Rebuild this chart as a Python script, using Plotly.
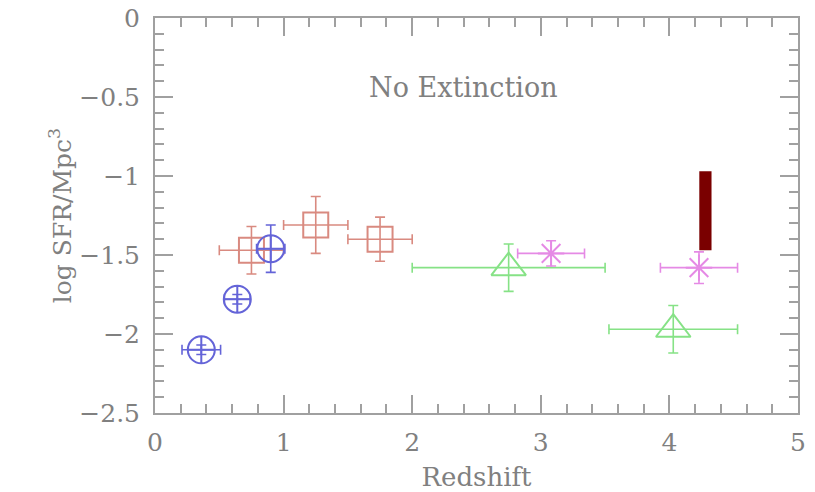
import plotly.graph_objects as go

# Star-formation-rate density measurements vs redshift (no extinction correction)
blue_z = [0.36, 0.64, 0.90]
blue_sfr = [-2.10, -1.78, -1.46]
blue_zerr = [0.15, 0.10, 0.11]
blue_sfrerr = [0.03, 0.03, 0.15]

red_z = [0.75, 1.25, 1.75]
red_sfr = [-1.47, -1.31, -1.40]
red_zerr = [0.25, 0.25, 0.25]
red_sfrerr = [0.15, 0.18, 0.14]

green_z = [2.75, 4.03]
green_sfr = [-1.58, -1.97]
green_zerr = [0.75, 0.50]
green_sfrerr = [0.15, 0.15]

pink_z = [3.08, 4.23]
pink_sfr = [-1.49, -1.58]
pink_zerr = [0.26, 0.30]
pink_sfrerr = [0.08, 0.10]

# vertical range bar at z ~ 4.3
bar_z = [4.28]
bar_low = [-1.47]
bar_high = [-0.97]

FONT = "DejaVu Serif"
GREY = "#808080"
FRAME = "#a0a0a0"


def series(x, y, xe, ye, color, symbol, size):
    return go.Scatter(
        x=x, y=y, mode="markers",
        marker=dict(symbol=symbol, size=size, color=color,
                    line=dict(color=color, width=2)),
        error_x=dict(type="data", array=xe, color=color, thickness=1.6, width=5),
        error_y=dict(type="data", array=ye, color=color, thickness=1.6, width=5),
        showlegend=False, cliponaxis=False,
    )


fig = go.Figure()
fig.add_trace(go.Bar(
    x=bar_z, y=[h - l for h, l in zip(bar_high, bar_low)], base=bar_low,
    width=0.095, marker=dict(color="#7a0000", line=dict(width=0)),
    showlegend=False,
))
fig.add_trace(series(red_z, red_sfr, red_zerr, red_sfrerr, "#d98a80", "square-open", 25))
fig.add_trace(series(blue_z, blue_sfr, blue_zerr, blue_sfrerr, "#6464d8", "circle-cross-open", 27))
fig.add_trace(series(green_z, green_sfr, green_zerr, green_sfrerr, "#86e286", "triangle-up-open", 30))
fig.add_trace(series(pink_z, pink_sfr, pink_zerr, pink_sfrerr, "#e58ae5", "asterisk-open", 22))

fig.add_annotation(x=2.4, y=-0.44, text="No Extinction", showarrow=False,
                   font=dict(family=FONT, size=27, color=GREY))

axis_common = dict(
    showgrid=False, zeroline=False, showline=True, linecolor=FRAME, linewidth=2,
    mirror="ticks", ticks="inside", ticklen=18, tickwidth=1.5, tickcolor=FRAME,
    tickfont=dict(family=FONT, size=25, color=GREY), automargin=False,
)

fig.update_xaxes(
    range=[0, 5], tick0=0, dtick=1,
    title=dict(text="Redshift", standoff=12, font=dict(family=FONT, size=26, color=GREY)),
    minor=dict(dtick=0.2, ticks="inside", ticklen=9, tickcolor=FRAME, tickwidth=1.5),
    ticklabelstandoff=6,
    **axis_common,
)
fig.update_yaxes(
    range=[-2.5, 0], tick0=0, dtick=0.5,
    title=dict(text="log SFR/Mpc<sup>3</sup>", standoff=1,
               font=dict(family=FONT, size=25, color=GREY)),
    minor=dict(dtick=0.1, ticks="inside", ticklen=9, tickcolor=FRAME, tickwidth=1.5),
    ticklabelstandoff=8,
    **axis_common,
)

fig.update_layout(
    width=815, height=492,
    margin=dict(l=155, r=17, t=18, b=79),
    paper_bgcolor="white", plot_bgcolor="white",
    barmode="overlay",
)

fig.write_html("out.html")
